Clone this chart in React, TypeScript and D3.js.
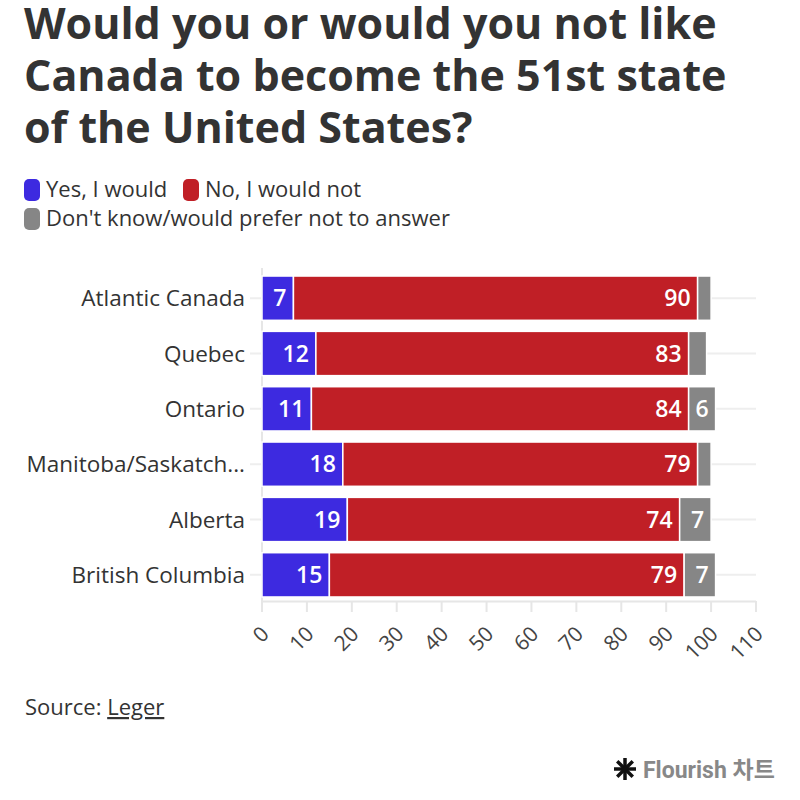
import React from "react";
import * as d3 from "d3";

const categories = ["Atlantic Canada", "Quebec", "Ontario", "Manitoba/Saskatch...", "Alberta", "British Columbia"];
const yesValues = [7, 12, 11, 18, 19, 15];
const noValues = [90, 83, 84, 79, 74, 79];
const dkValues = [3, 4, 6, 3, 7, 7];
const xTicks = [0, 10, 20, 30, 40, 50, 60, 70, 80, 90, 100, 110];
const seriesNames = ["Yes, I would", "No, I would not", "Don't know/would prefer not to answer"];
const titleLines = ["Would you or would you not like", "Canada to become the 51st state", "of the United States?"];

const COLORS = ["#3d2ae0", "#c01f26", "#868686"];
const FONT = "'Open Sans', sans-serif";

export default function App() {
  const x = d3.scaleLinear().domain([0, 110]).range([262, 756]);
  const y = d3.scaleBand().domain(categories).range([270.5, 602.5]).paddingInner(0.2).paddingOuter(0.1);
  const rows = categories.map((c, i) => {
    const vals = [yesValues[i], noValues[i], dkValues[i]];
    let acc = 0;
    const segs = vals.map((v, k) => {
      const s = { k, v, x0: acc, x1: acc + v };
      acc += v;
      return s;
    });
    return { c, segs };
  });
  const bw = y.bandwidth();

  return (
    <svg width={800} height={800} style={{ position: "absolute", left: 0, top: 0, background: "#fff" }}>
      {titleLines.map((t, i) => (
        <text key={i} x={24} y={39 + i * 52} fontFamily={FONT} fontWeight={700} fontSize={43} fill="#333">
          {t}
        </text>
      ))}
      {/* legend */}
      {[
        { k: 0, x: 24, y: 179 },
        { k: 1, x: 183, y: 179 },
        { k: 2, x: 24, y: 208 },
      ].map((l) => (
        <g key={l.k}>
          <rect x={l.x} y={l.y} width={16} height={22} rx={5} fill={COLORS[l.k]} />
          <text x={l.x + 22} y={l.y + 18} fontFamily={FONT} fontSize={22} fill="#333">
            {seriesNames[l.k]}
          </text>
        </g>
      ))}
      {/* gridlines */}
      {categories.map((c) => (
        <line key={c} x1={250} x2={756} y1={y(c)! + bw / 2} y2={y(c)! + bw / 2} stroke="#eee" strokeWidth={2} />
      ))}
      <line x1={x(0)} x2={x(0)} y1={268} y2={602} stroke="#e6e6e6" strokeWidth={2} />
      {/* bars */}
      {rows.map((r) => (
        <g key={r.c}>
          <text x={245} y={y(r.c)! + bw / 2} dy="0.36em" textAnchor="end" fontFamily={FONT} fontSize={22.5} fill="#333">
            {r.c}
          </text>
          {r.segs.map((s) => (
            <rect key={s.k} x={x(s.x0)} y={y(r.c)} width={x(s.x1) - x(s.x0)} height={bw} fill={COLORS[s.k]} stroke="#fff" strokeWidth={1.5} />
          ))}
          {r.segs.map((s) =>
            x(s.x1) - x(s.x0) >= 24 ? (
              <text key={"t" + s.k} x={x(s.x1) - 7} y={y(r.c)! + bw / 2} dy="0.36em" textAnchor="end" fontFamily={FONT} fontWeight={600} fontSize={23} fill="#fff">
                {s.v}
              </text>
            ) : null
          )}
        </g>
      ))}
      {/* x axis */}
      <line x1={x(0)} x2={756} y1={601.5} y2={601.5} stroke="#e6e6e6" strokeWidth={2} />
      {xTicks.map((t) => (
        <g key={t} transform={`translate(${x(t)},0)`}>
          <line y1={601} y2={612} stroke="#e6e6e6" strokeWidth={2} />
          <text transform="translate(3,630) rotate(-45)" textAnchor="end" dy="0.35em" fontFamily={FONT} fontSize={21} fill="#444">
            {t}
          </text>
        </g>
      ))}
      <text x={25} y={715} fontFamily={FONT} fontSize={22} fill="#333">
        Source: <tspan textDecoration="underline">Leger</tspan>
      </text>
      {/* flourish logo */}
      <g transform="translate(625,769)">
        {[0, 45, 90, 135].map((a) => (
          <line key={a} x1={-11} x2={11} y1={0} y2={0} transform={`rotate(${a})`} stroke="#111" strokeWidth={3.5} />
        ))}
      </g>
      <text x={643} y={778} fontFamily="Roboto, 'Noto Sans CJK KR', sans-serif" fontWeight={700} fontSize={23} fill="#888">
        Flourish 차트
      </text>
    </svg>
  );
}
